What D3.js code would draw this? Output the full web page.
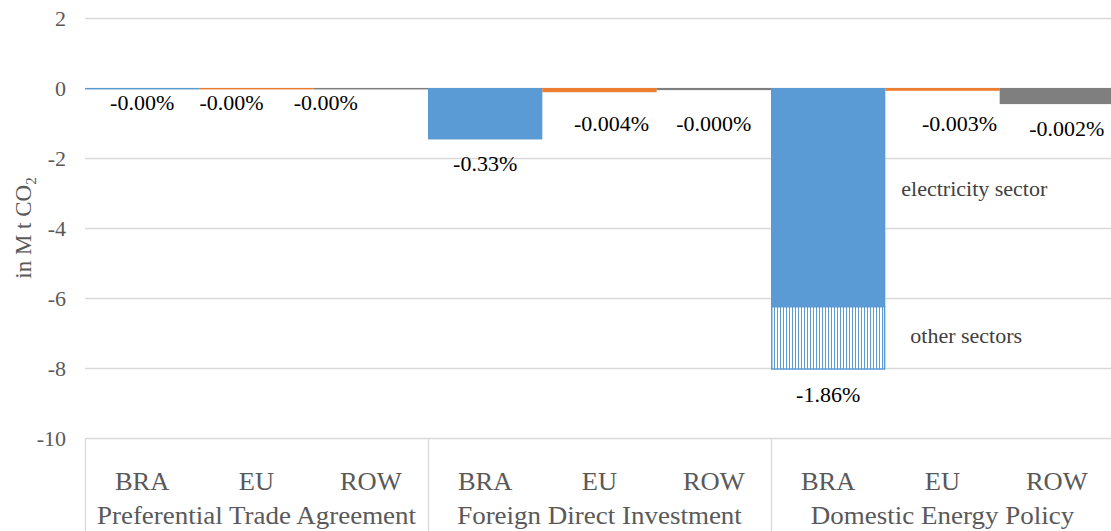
<!DOCTYPE html>
<html>
<head>
<meta charset="utf-8">
<script src="https://cdn.jsdelivr.net/npm/d3@7"></script>
<style>
  body { margin: 0; background: #fff; }
  svg { display: block; }
  svg text { font-family: "Liberation Serif", "Times New Roman", serif; }
</style>
</head>
<body>
<svg></svg>
<script>
// chart values (M t CO2)
const groups = ["Preferential Trade Agreement", "Foreign Direct Investment", "Domestic Energy Policy"]
const regions = ["BRA", "EU", "ROW"]
const ptaValues = [-0.04, -0.04, -0.04]
const fdiValues = [-1.47, -0.12, -0.06]
const depValues = [-6.25, -0.08, -0.46]     // BRA = electricity sector only
const depOtherSectors = -1.80                 // BRA, other sectors (stacked below)
const ptaShares = ["-0.00%", "-0.00%", "-0.00%"]
const fdiShares = ["-0.33%", "-0.004%", "-0.000%"]
const depShares = ["-1.86%", "-0.003%", "-0.002%"]
const yTicks = [2, 0, -2, -4, -6, -8, -10]

const W = 1111, H = 531
const colors = { BRA: "#5B9BD5", EU: "#ED7D31", ROW: "#7F7F7F" }

let bars = []
;[ptaValues, fdiValues, depValues].forEach((vals, g) => {
  vals.forEach((v, i) => bars.push({
    key: groups[g] + "|" + regions[i],
    group: groups[g],
    region: regions[i],
    value: v,
    share: [ptaShares, fdiShares, depShares][g][i]
  }))
})

let svg = d3.select("svg")
  .attr("width", W)
  .attr("height", H)

let x = d3.scaleBand()
  .domain(bars.map(d => d.key))
  .range([85, 1114])
  .padding(0)

let y = d3.scaleLinear()
  .domain([-10, 2])
  .range([438, 18])

let defs = svg.append("defs")
defs.append("pattern")
    .attr("id", "vert")
    .attr("width", 3)
    .attr("height", 4)
    .attr("patternUnits", "userSpaceOnUse")
  .call(p => {
    p.append("rect").attr("width", 3).attr("height", 4).attr("fill", "#fff")
    p.append("rect").attr("width", 1).attr("height", 4).attr("fill", "#5B9BD5")
  })

// gridlines
svg.append("g")
  .selectAll("line")
  .data(yTicks)
  .enter().append("line")
    .attr("x1", 85)
    .attr("x2", W)
    .attr("y1", d => Math.round(y(d)) + .5)
    .attr("y2", d => Math.round(y(d)) + .5)
    .attr("stroke", "#D9D9D9")
    .attr("stroke-width", 1.3)

// y tick labels
svg.append("g")
  .selectAll("text")
  .data(yTicks)
  .enter().append("text")
    .attr("x", 66)
    .attr("y", d => y(d))
    .attr("dy", "0.35em")
    .attr("text-anchor", "end")
    .attr("fill", "#595959")
    .attr("font-size", 22)
    .text(d => d)

// y axis title
let title = svg.append("text")
    .attr("transform", "translate(31,228) rotate(-90)")
    .attr("text-anchor", "middle")
    .attr("fill", "#595959")
    .attr("font-size", 23)
title.append("tspan").text("in M t CO")
title.append("tspan").attr("font-size", 15).attr("dy", 5).text("2")

// category axis separators
let groupEdges = groups.map(g => x(g + "|" + regions[0]))
svg.append("g")
  .selectAll("line")
  .data(groupEdges)
  .enter().append("line")
    .attr("x1", d => d + .5)
    .attr("x2", d => d + .5)
    .attr("y1", y(-10))
    .attr("y2", H)
    .attr("stroke", "#D9D9D9")
    .attr("stroke-width", 1.3)

// bars
svg.append("g")
  .selectAll("rect")
  .data(bars)
  .enter().append("rect")
    .attr("x", d => x(d.key))
    .attr("width", x.bandwidth())
    .attr("y", y(0))
    .attr("height", d => Math.max(1, y(d.value) - y(0)))
    .attr("fill", d => colors[d.region])

// hatched "other sectors" part of the domestic energy policy bar
let depBra = bars.find(d => d.group === groups[2] && d.region === "BRA")
svg.append("rect")
    .attr("x", x(depBra.key) + .75)
    .attr("width", x.bandwidth() - 1.5)
    .attr("y", y(depBra.value))
    .attr("height", y(depBra.value + depOtherSectors) - y(depBra.value) - .75)
    .attr("fill", "url(#vert)")
    .attr("stroke", "#5B9BD5")
    .attr("stroke-width", 1.5)

// data labels, nudged like the original
const labelNudge = [[0, 13], [-25, 13], [-45, 13], [0, 24], [12, 31], [0, 33], [0, 25], [17, 32], [10, 24]]
svg.append("g")
  .selectAll("text")
  .data(bars)
  .enter().append("text")
    .attr("x", (d, i) => x(d.key) + x.bandwidth() / 2 + labelNudge[i][0])
    .attr("y", (d, i) => {
      let v = d === depBra ? d.value + depOtherSectors : d.value
      return y(v) + labelNudge[i][1]
    })
    .attr("dy", "0.35em")
    .attr("text-anchor", "middle")
    .attr("fill", "#000")
    .attr("font-size", 22)
    .text(d => d.share)

// sector annotations
let annX = x(depBra.key) + x.bandwidth() + 16
svg.append("text")
    .attr("x", annX)
    .attr("y", (y(0) + y(depBra.value)) / 2 - 9)
    .attr("dy", "0.35em")
    .attr("fill", "#404040")
    .attr("font-size", 22)
    .text("electricity sector")
svg.append("text")
    .attr("x", annX + 9)
    .attr("y", (y(depBra.value) + y(depBra.value + depOtherSectors)) / 2 - 3)
    .attr("dy", "0.35em")
    .attr("fill", "#404040")
    .attr("font-size", 22)
    .text("other sectors")

// region and group labels (slightly widened, as in the original)
svg.append("g")
  .selectAll("text")
  .data(bars)
  .enter().append("text")
    .attr("transform", d => "translate(" + (x(d.key) + x.bandwidth() / 2) + ",481) scale(1.06,1)")
    .attr("dy", "0.35em")
    .attr("text-anchor", "middle")
    .attr("fill", "#595959")
    .attr("font-size", 25)
    .text(d => d.region)

svg.append("g")
  .selectAll("text")
  .data(groups)
  .enter().append("text")
    .attr("transform", g => "translate(" + (x(g + "|" + regions[1]) + x.bandwidth() / 2) + ",515) scale(1.08,1)")
    .attr("dy", "0.35em")
    .attr("text-anchor", "middle")
    .attr("fill", "#595959")
    .attr("font-size", 25)
    .text(g => g)
</script>
</body>
</html>
